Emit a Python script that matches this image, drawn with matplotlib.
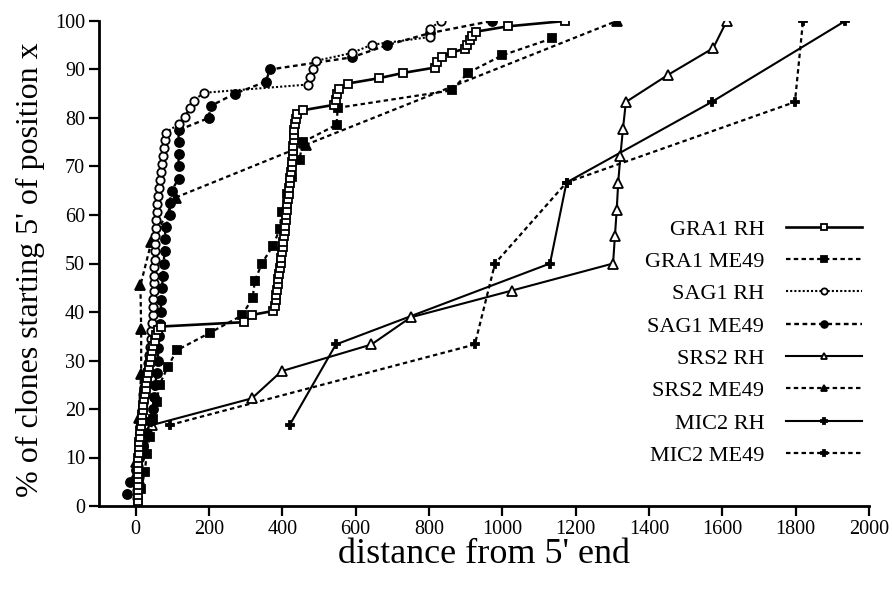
import matplotlib
matplotlib.use("Agg")
import matplotlib.pyplot as plt

plt.rcParams["font.family"] = ["Liberation Serif", "DejaVu Serif"]

# --- data (distance from 5' end, % of clones) ---

# GRA1 RH : open squares, solid line
gra1_rh_x = [5, 5, 5, 5, 6, 6, 6, 6, 7, 7, 8, 9, 10, 11, 12, 14, 16, 17, 19, 21,
             23, 25, 27, 29, 31, 33, 36, 38, 41, 44, 48, 52, 56, 60,
             68, 295, 317, 374,
             380, 382, 384, 386, 387, 389, 391, 393, 395, 397, 399, 401, 403, 405,
             406, 408, 410, 411, 413, 414, 416, 417, 419, 420, 422, 423, 425, 426,
             428, 429, 430, 431, 432, 433, 435, 437, 439,
             456, 540, 546, 550, 554, 578, 663, 730, 816, 821, 835, 862, 898, 903,
             911, 917, 928, 1015, 1171]
gra1_rh_y = [0.0, 1.1, 2.2, 3.3, 4.4, 5.5, 6.6, 7.7, 8.8, 9.9, 11.0, 12.1, 13.2, 14.3,
             15.4, 16.5, 17.6, 18.7, 19.8, 20.9, 22.0, 23.1, 24.2, 25.3, 26.4, 27.5,
             28.6, 29.7, 30.8, 31.9, 33.0, 34.1, 35.2, 36.3,
             37.0, 37.9, 39.4, 40.2,
             41.3, 42.4, 43.5, 44.6, 45.7, 46.8, 47.9, 49.0, 50.1, 51.2, 52.3, 53.4,
             54.5, 55.6, 56.7, 57.8, 58.9, 60.0, 61.1, 62.2, 63.3, 64.4, 65.5, 66.6,
             67.7, 68.8, 69.9, 71.0, 72.1, 73.2, 74.3, 75.4, 76.5, 77.6, 78.7, 79.8,
             80.9,
             81.6, 82.7, 83.8, 84.9, 86.0, 87.1, 88.2, 89.3, 90.4, 91.5, 92.6, 93.5,
             94.3, 95.1, 96.0, 96.9, 97.8, 98.9, 100.0]

# GRA1 ME49 : filled squares, dashed line
gra1_me49_x = [15, 25, 30, 38, 46, 57, 65, 87, 112, 202, 290, 319, 325, 344, 374,
               393, 398, 412, 425, 447, 455, 548, 551, 862, 906, 999, 1135]
gra1_me49_y = [3.6, 7.1, 10.7, 14.3, 17.9, 21.4, 25.0, 28.6, 32.1, 35.7, 39.3, 42.9,
               46.4, 50.0, 53.6, 57.1, 60.7, 64.3, 67.9, 71.4, 75.0, 78.6, 82.1,
               85.7, 89.3, 92.9, 96.4]

# SAG1 RH : open circles, dotted line
sag1_rh_x = [3, 4, 5, 6, 7, 8, 9, 10, 11, 13, 15, 17, 19, 21, 24, 27, 30, 33, 36, 39,
             41, 43, 45, 46, 47, 48, 49, 50, 51, 51, 52, 52, 53, 54, 55, 56, 57, 59,
             61, 63, 66, 69, 72, 75, 77, 79, 82,
             117, 134, 147, 158, 186, 470, 475, 483, 493, 589, 644, 802, 802, 832]
sag1_rh_y = [1.6, 3.3, 4.9, 6.6, 8.2, 9.8, 11.5, 13.1, 14.8, 16.4, 18.0, 19.7, 21.3,
             23.0, 24.6, 26.2, 27.9, 29.5, 31.1, 32.8, 34.4, 36.1, 37.7, 39.3, 41.0,
             42.6, 44.3, 45.9, 47.5, 49.2, 50.8, 52.5, 54.1, 55.7, 57.4, 59.0, 60.7,
             62.3, 63.9, 65.6, 67.2, 68.9, 70.5, 72.1, 73.8, 75.4, 77.0,
             78.7, 80.3, 82.0, 83.6, 85.2, 86.9, 88.5, 90.2, 91.8, 93.4, 95.1, 96.7,
             98.4, 100.0]

# SAG1 ME49 : filled circles, dashed line
sag1_me49_x = [-25, -16, 2, 8, 20, 30, 40, 46, 50, 54, 57, 60, 62, 64, 66, 68, 70,
               72, 74, 76, 79, 79, 82, 93, 93, 98, 117, 117, 117, 117, 117, 199, 205,
               270, 355, 366, 589, 685, 802, 971]
sag1_me49_y = [2.5, 5.0, 7.5, 10.0, 12.5, 15.0, 17.5, 20.0, 22.5, 25.0, 27.5, 30.0,
               32.5, 35.0, 37.5, 40.0, 42.5, 45.0, 47.5, 50.0, 52.5, 55.0, 57.5, 60.0,
               62.5, 65.0, 67.5, 70.0, 72.5, 75.0, 77.5, 80.0, 82.5, 85.0, 87.5, 90.0,
               92.5, 95.0, 97.5, 100.0]

# SRS2 RH : open triangles, solid line
srs2_rh_x = [8, 15, 45, 317, 398, 643, 750, 1025, 1302, 1307, 1312, 1316, 1322, 1329,
             1337, 1452, 1575, 1612]
srs2_rh_y = [5.6, 11.1, 16.7, 22.2, 27.8, 33.3, 38.9, 44.4, 50.0, 55.6, 61.1, 66.7,
             72.2, 77.8, 83.3, 88.9, 94.4, 100.0]

# SRS2 ME49 : filled triangles, dashed line
srs2_me49_x = [0, 8, 15, 15, 13, 43, 109, 465, 1312]
srs2_me49_y = [9.1, 18.2, 27.3, 36.4, 45.5, 54.5, 63.6, 74.5, 100.0]

# MIC2 RH : small filled crosses, solid line
mic2_rh_x = [420, 546, 1130, 1175, 1571, 1935]
mic2_rh_y = [16.7, 33.3, 50.0, 66.7, 83.3, 100.0]

# MIC2 ME49 : small filled crosses, dashed line
mic2_me49_x = [93, 925, 980, 1175, 1798, 1820]
mic2_me49_y = [16.7, 33.3, 50.0, 66.7, 83.3, 100.0]

x_ticks = list(range(0, 2001, 200))
y_ticks = list(range(0, 101, 10))

# --- figure ---
fig = plt.figure(figsize=(8.92, 5.90), dpi=100)
ax = fig.add_axes([99 / 892, 84 / 590, 770 / 892, 485 / 590])

k = dict(color="black", mec="black", mew=1.3)
dash = (2.0, 1.5)

ax.plot(mic2_me49_x, mic2_me49_y, ls=(0, dash), lw=1.6, marker="P", ms=6, mfc="black",
        label="MIC2 ME49", **k)
ax.plot(mic2_rh_x, mic2_rh_y, ls="-", lw=1.5, marker="P", ms=6, mfc="black",
        label="MIC2 RH", **k)
ax.plot(srs2_me49_x, srs2_me49_y, ls=(0, dash), lw=1.6, marker="^", ms=6.5, mfc="black",
        label="SRS2 ME49", **k)
ax.plot(srs2_rh_x, srs2_rh_y, ls="-", lw=1.5, marker="^", ms=6.5, mfc="white",
        label="SRS2 RH", **k)
ax.plot(sag1_me49_x, sag1_me49_y, ls=(0, dash), lw=1.7, marker="o", ms=6.5, mfc="black",
        label="SAG1 ME49", **k)
ax.plot(gra1_me49_x, gra1_me49_y, ls=(0, dash), lw=1.6, marker="s", ms=6, mfc="black",
        label="GRA1 ME49", **k)
ax.plot(sag1_rh_x, sag1_rh_y, ls=(0, (1, 1)), lw=1.5, marker="o", ms=6, mfc="white",
        label="SAG1 RH", **k)
ax.plot(gra1_rh_x, gra1_rh_y, ls="-", lw=1.9, marker="s", ms=5.5, mfc="white",
        label="GRA1 RH", **k)

ax.set_xlim(-100, 2000)
ax.set_ylim(0, 100)
ax.set_xticks(x_ticks)
ax.set_yticks(y_ticks)
ax.tick_params(direction="out", length=7, width=1.6, labelsize=14.5, pad=3)
for s in ["top", "right"]:
    ax.spines[s].set_visible(False)
for s in ["left", "bottom"]:
    ax.spines[s].set_linewidth(2.0)

ax.set_xlabel("distance from 5' end", fontsize=26)
ax.xaxis.set_label_coords(0.5, -0.065)
ax.set_ylabel("% of clones starting 5' of position x", fontsize=23)
ax.yaxis.set_label_coords(-0.07, 0.487)

# legend in the original order, text on the left, sample on the right
h, l = ax.get_legend_handles_labels()
order = ["GRA1 RH", "GRA1 ME49", "SAG1 RH", "SAG1 ME49",
         "SRS2 RH", "SRS2 ME49", "MIC2 RH", "MIC2 ME49"]
hh = [h[l.index(n)] for n in order]
ax.legend(hh, order, loc="upper right", bbox_to_anchor=(862 / 892, 1 - 219 / 590),
          bbox_transform=fig.transFigure, frameon=False, markerfirst=False,
          fontsize=16, handlelength=3.4, handletextpad=1.0, labelspacing=0.53,
          borderpad=0, borderaxespad=0, markerscale=0.75)

plt.savefig("out.png", dpi=100)
